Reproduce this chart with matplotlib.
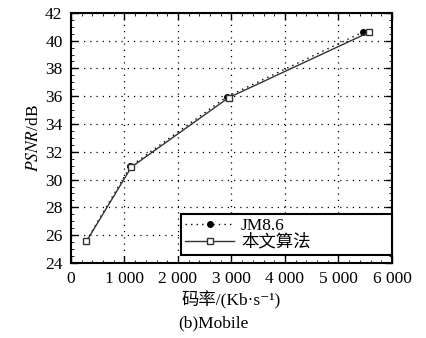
import matplotlib
matplotlib.use("Agg")
import matplotlib.pyplot as plt
from matplotlib.ticker import MultipleLocator, FuncFormatter

# ---------------------------------------------------------------
# Data
# ---------------------------------------------------------------
jm_rate = [290, 1110, 2910, 5460]
jm_psnr = [25.6, 30.95, 35.95, 40.62]

ours_rate = [290, 1130, 2950, 5570]
ours_psnr = [25.55, 30.9, 35.9, 40.6]

series_labels = ["JM8.6", "本文算法"]
x_ticks = [0, 1000, 2000, 3000, 4000, 5000, 6000]
y_ticks = [24, 26, 28, 30, 32, 34, 36, 38, 40, 42]

plt.rcParams['font.family'] = ['Liberation Serif', 'Noto Sans CJK SC', 'DejaVu Serif']
plt.rcParams['mathtext.fontset'] = 'stix'

fig = plt.figure(figsize=(4.27, 3.38), dpi=100)
ax = fig.add_axes([0.166, 0.222, 0.752, 0.740])

ax.plot(jm_rate, jm_psnr, linestyle=(0, (1, 3)), color='black', lw=1.0,
        marker='o', markersize=4, markerfacecolor='black',
        label=series_labels[0])
ax.plot(ours_rate, ours_psnr, linestyle='-', color='#333333', lw=1.0,
        marker='s', markersize=4, markerfacecolor='white',
        markeredgecolor='#333333', label=series_labels[1])

ax.set_xlim(0, 6000)
ax.set_ylim(24, 42)
ax.set_xticks(x_ticks)
ax.set_yticks(y_ticks)
ax.xaxis.set_major_formatter(FuncFormatter(
    lambda v, p: "0" if v == 0 else f"{int(v) // 1000} {int(v) % 1000:03d}"))
ax.xaxis.set_minor_locator(MultipleLocator(200))
ax.yaxis.set_minor_locator(MultipleLocator(0.5))

ax.grid(True, which='major', linestyle=(0, (1, 4)), color='black', lw=0.9)
ax.tick_params(which='major', direction='in', length=5, width=1.0,
               top=True, right=True, labelsize=12.5, pad=6)
ax.tick_params(which='minor', direction='in', length=2, width=0.6,
               top=True, right=True)
for s in ax.spines.values():
    s.set_linewidth(1.5)

ax.set_ylabel("$PSNR$/dB", fontsize=12.5, labelpad=2)
ax.set_xlabel("码率/(Kb·s\u207b\u00b9)", fontsize=12.5, labelpad=3)
fig.text(0.50, 0.03, "(b)Mobile", ha='center', fontsize=12.5)

leg = ax.legend(loc='lower left', bbox_to_anchor=(0.343, 0.032, 0.657, 0.152),
                mode='expand', frameon=True, fancybox=False, fontsize=12.5,
                handlelength=2.8, borderpad=0.25, labelspacing=0.0,
                handletextpad=0.4, borderaxespad=0)
leg.get_frame().set_edgecolor('black')
leg.get_frame().set_linewidth(1.5)
leg.get_frame().set_alpha(1)

fig.savefig("out.png", dpi=100)
